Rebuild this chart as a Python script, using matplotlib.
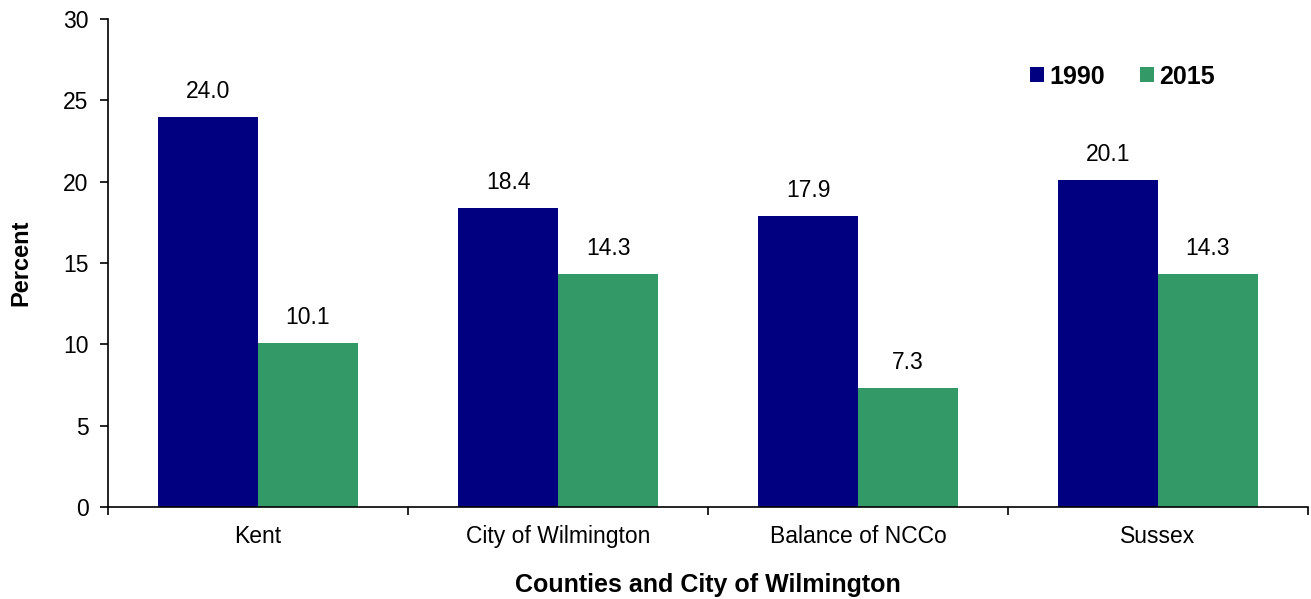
import numpy as np
import matplotlib.pyplot as plt

plt.rcParams['font.family'] = ['Liberation Sans', 'DejaVu Sans']

categories = ["Kent", "City of Wilmington", "Balance of NCCo", "Sussex"]
values_1990 = [24.0, 18.4, 17.9, 20.1]
values_2015 = [10.1, 14.3, 7.3, 14.3]
series_names = ["1990", "2015"]
colors = ["#000080", "#339966"]

fig = plt.figure(figsize=(13.11, 5.99), dpi=100)
ax = fig.add_axes([0.0824, 0.1536, 0.9153, 0.8147])

x = np.arange(len(categories))
w = 1 / 3
bars1 = ax.bar(x - w / 2, values_1990, w, color=colors[0], label=series_names[0])
bars2 = ax.bar(x + w / 2, values_2015, w, color=colors[1], label=series_names[1])

# value labels above each bar
for bars, vals in [(bars1, values_1990), (bars2, values_2015)]:
    for b, v in zip(bars, vals):
        ax.annotate(f"{v:.1f}", (b.get_x() + b.get_width() / 2, v),
                    xytext=(0, 10), textcoords="offset points",
                    ha="center", va="bottom", fontsize=16.5)

ax.set_xlim(-0.5, len(categories) - 0.5)
ax.set_ylim(0, 30)
ax.set_yticks(range(0, 31, 5))
ax.set_xticks(x)
ax.set_xticklabels(categories, fontsize=16.5)
ax.set_xticks(np.arange(-0.5, len(categories), 1), minor=True)
ax.tick_params(axis="x", which="major", length=0, pad=13)
ax.tick_params(axis="x", which="minor", length=6, direction="out", width=1.2)
ax.tick_params(axis="y", length=6, direction="out", width=1.2, labelsize=16.5, pad=8)

for s in ["top", "right"]:
    ax.spines[s].set_visible(False)
for s in ["left", "bottom"]:
    ax.spines[s].set_linewidth(1.2)

ax.set_ylabel("Percent", fontsize=17, fontweight="bold", labelpad=22)
ax.set_xlabel("Counties and City of Wilmington", fontsize=18, fontweight="bold", labelpad=18)

leg = ax.legend(loc="center right", bbox_to_anchor=(0.922, 0.882), ncol=2, frameon=False,
                handlelength=0.56, handleheight=0.56, handletextpad=0.2,
                columnspacing=1.4, borderpad=0, borderaxespad=0,
                prop={"size": 18, "weight": "bold"})

fig.savefig("out.png", dpi=100)
plt.close()
